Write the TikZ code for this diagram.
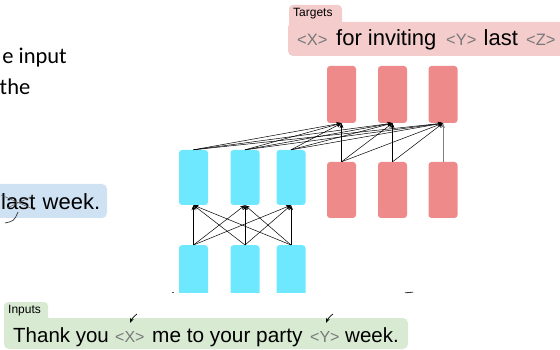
\documentclass[tikz,border=0pt]{standalone}
\usepackage{fontspec}
\setmainfont{Liberation Sans}
\newfontfamily\calib{Carlito}
\usetikzlibrary{arrows.meta}
\definecolor{cyanblk}{RGB}{110,232,255}
\definecolor{redblk}{RGB}{239,138,138}
\definecolor{pinkbox}{RGB}{244,204,204}
\definecolor{greenbox}{RGB}{217,234,211}
\definecolor{bluebox}{RGB}{207,226,243}
\definecolor{tokgrey}{RGB}{120,120,120}
\begin{document}
\begin{tikzpicture}[x=1pt,y=-1pt,
  blk/.style={rounded corners=3pt, minimum width=29pt, inner sep=0pt},
  enc/.style={blk, fill=cyanblk},
  dec/.style={blk, fill=redblk},
  arr/.style={-{Stealth[length=5pt,width=4pt]}, line width=0.5pt, black},
  small/.style={font=\fontsize{12}{14}\selectfont, inner sep=0pt, anchor=west},
  wordin/.style={font=\fontsize{20.5}{24}\selectfont, inner sep=0pt, anchor=base west},
  tokin/.style={font=\fontsize{16}{18}\selectfont, text=tokgrey, inner sep=0pt, anchor=base west},
  wordout/.style={font=\fontsize{22}{26}\selectfont, inner sep=0pt, anchor=base west},
  tokout/.style={font=\fontsize{16.5}{19}\selectfont, text=tokgrey, inner sep=0pt, anchor=base west},
]
\useasboundingbox (0,0) rectangle (560,350);
\clip (0,0) rectangle (560,350);

% left text
\node[font=\calib\fontsize{22.5}{26}\selectfont, anchor=base east, inner sep=0pt] (t1) at (67,64) {e input};
\node[font=\calib\fontsize{22.5}{26}\selectfont, anchor=base east, inner sep=0pt] (t2) at (30.5,95) {the};

% blue box
\fill[bluebox, rounded corners=5pt] (-10,184) rectangle (107,218);
\node[wordout] (lw1) at (1,210) {last};
\node[wordout] (lw2) at (42.5,210) {week.};
\draw[gray!70!black, line width=0.5pt] (1,195) -- (35,210) (7,208) -- (33,196);
\draw[black!80, line width=0.7pt] (5,223) .. controls (14,221) .. (18,212);

% targets box
\fill[pinkbox, rounded corners=4pt] (289,5) rectangle (342,30);
\fill[pinkbox, rounded corners=5pt] (288,22) rectangle (580,56);
\node[small] (tgtlbl) at (293,14) {Targets};
\node[tokout] (o1) at (297,46) {<X>};
\node[wordout] (o2) at (336,46) {for inviting};
\node[tokout] (o3) at (446,46) {<Y>};
\node[wordout] (o4) at (483.5,46) {last};
\node[tokout] (o5) at (526,46) {<Z>};

% inputs box
\fill[greenbox, rounded corners=4pt] (4,302) rectangle (48,325);
\fill[greenbox, rounded corners=5pt] (4,318) rectangle (408,349);
\node[small] (inlbl) at (8,311) {Inputs};
\node[wordin] (i1) at (13,342) {Thank you};
\node[tokin] (i2) at (115,342) {<X>};
\node[wordin, font=\fontsize{20.8}{24}\selectfont] (i3) at (152,342) {me to your party};
\node[tokin] (i4) at (310,342) {<Y>};
\node[wordin] (i5) at (345,342) {week.};

% blocks
\node[enc, minimum height=55pt] (bu1) at (193.5,177.5) {};
\node[enc, minimum height=55pt] (bu2) at (245,177.5) {};
\node[enc, minimum height=55pt] (bu3) at (291,177.5) {};
\begin{scope}
\clip (0,0) rectangle (560,292.5);
\node[enc, minimum height=60pt, anchor=north] (bl1) at (193.5,245) {};
\node[enc, minimum height=60pt, anchor=north] (bl2) at (245,245) {};
\node[enc, minimum height=60pt, anchor=north] (bl3) at (291,245) {};
\end{scope}
\node[dec, minimum height=57pt] (ru1) at (341.5,94.5) {};
\node[dec, minimum height=57pt] (ru2) at (392.5,94.5) {};
\node[dec, minimum height=57pt] (ru3) at (443,94.5) {};
\node[dec, minimum height=56pt] (rl1) at (341.5,190) {};
\node[dec, minimum height=56pt] (rl2) at (392.5,190) {};
\node[dec, minimum height=56pt] (rl3) at (443,190) {};

% arrows
\foreach \i in {1,2,3}{\foreach \j in {1,2,3}{\draw[arr] (bl\i.north) -- (bu\j.south);}}
\foreach \i in {1,2,3}{\foreach \j in {1,2,3}{\draw[arr] (bu\i.north) -- (ru\j.south);}}
\draw[arr] (rl1.north) -- (ru1.south);
\draw[arr] (rl1.north) -- (ru2.south);
\draw[arr] (rl1.north) -- (ru3.south);
\draw[arr] (rl2.north) -- (ru2.south);
\draw[arr] (rl2.north) -- (ru3.south);
\draw[arr, draw=gray] (rl3.north) -- (ru3.south);

% small arrows above inputs tokens
\coordinate (xs) at (137,314);
\coordinate (xe) at (130,323);
\coordinate (ys) at (333,314);
\coordinate (ye) at (326,323);
\draw[arr, line width=0.7pt] (xs) to[bend right=15] (xe);
\draw[arr, line width=0.7pt] (ys) to[bend right=15] (ye);

% clipped remnants
\fill[black!70] (172,291.5) rectangle (174,293);
\draw[black!80, line width=0.8pt] (405,292.8) -- (413,292.2);
\end{tikzpicture}
\end{document}
